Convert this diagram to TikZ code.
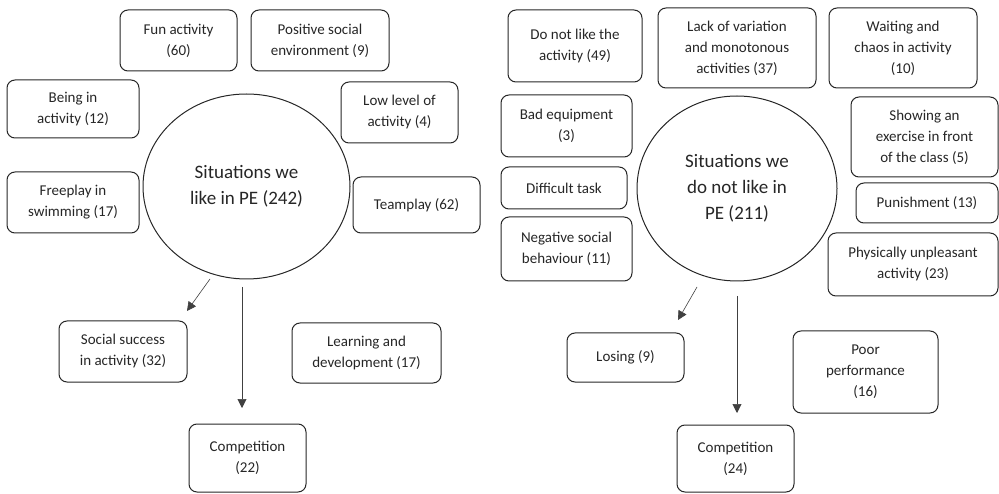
\documentclass[tikz,border=0pt]{standalone}
\usepackage{fontspec}
\setmainfont{Carlito}
\usetikzlibrary{arrows.meta,shapes.geometric}
\begin{document}
\begin{tikzpicture}[x=1pt,y=-1pt,
  box/.style={draw=black!85, line width=1pt, rounded corners=8pt, align=center,
    inner sep=0pt, text=black!85, font=\fontsize{15}{21}\selectfont},
  hub/.style={draw=black!85, line width=1pt, ellipse, inner sep=0pt, align=center,
    text=black!85, font=\fontsize{19}{26}\selectfont},
  link/.style={draw=black!75, line width=0.6pt, -{Triangle[length=9pt,width=9pt]}}]
\useasboundingbox (0,0) rectangle (999,494);
% ---------- left diagram ----------
\node[hub, minimum width=207pt, minimum height=185pt] (like) at (246.5,186.5) {Situations we\\like in PE (242)};
\node[box, minimum width=117pt, minimum height=61pt] (fun) at (178.5,40.5) {Fun activity\\(60)};
\node[box, minimum width=138pt, minimum height=61pt] (pos) at (320,40.5) {Positive social\\environment (9)};
\node[box, minimum width=132pt, minimum height=58pt] (being) at (73,109) {Being in\\activity (12)};
\node[box, minimum width=117pt, minimum height=61pt] (low) at (399.5,112.5) {Low level of\\activity (4)};
\node[box, minimum width=132pt, minimum height=61pt] (free) at (73,202.5) {Freeplay in\\swimming (17)};
\node[box, minimum width=127pt, minimum height=56pt] (team) at (416.5,205) {Teamplay (62)};
\node[box, minimum width=128pt, minimum height=61pt] (social) at (123,351.5) {Social success\\in activity (32)};
\node[box, minimum width=149pt, minimum height=60pt] (learn) at (366.5,353) {Learning and\\development (17)};
\node[box, minimum width=117pt, minimum height=68pt] (compA) at (247.5,458) {Competition\\(22)};
\coordinate (la1) at (210,279); \coordinate (la2) at (187,311);
\coordinate (lb1) at (242,287); \coordinate (lb2) at (242,408);
\draw[link] (la1) -- (la2);
\draw[link] (lb1) -- (lb2);
% ---------- right diagram ----------
\node[hub, minimum width=200pt, minimum height=185pt] (dislike) at (737,188.5) {Situations we\\do not like in\\PE (211)};
\node[box, minimum width=134pt, minimum height=72pt] (dnl) at (575,46) {Do not like the\\activity (49)};
\node[box, minimum width=158pt, minimum height=80pt] (lack) at (737,48) {Lack of variation\\and monotonous\\activities (37)};
\node[box, minimum width=148pt, minimum height=80pt] (wait) at (903,48) {Waiting and\\chaos in activity\\(10)};
\node[box, minimum width=131pt, minimum height=62pt] (bad) at (566.5,126) {Bad equipment\\(3)};
\node[box, minimum width=147pt, minimum height=80pt] (show) at (924.5,137) {Showing an\\exercise in front\\of the class (5)};
\node[box, minimum width=126pt, minimum height=42pt] (diff) at (564,188) {Difficult task};
\node[box, minimum width=142pt, minimum height=40pt] (pun) at (927,203) {Punishment (13)};
\node[box, minimum width=131pt, minimum height=64pt] (neg) at (566.5,249) {Negative social\\behaviour (11)};
\node[box, minimum width=170pt, minimum height=63pt] (phys) at (913,264.5) {Physically unpleasant\\activity (23)};
\node[box, minimum width=117pt, minimum height=49pt] (lose) at (625.5,357.5) {Losing (9)};
\node[box, minimum width=145pt, minimum height=82pt] (poor) at (865.5,372) {Poor\\performance\\(16)};
\node[box, minimum width=117pt, minimum height=67pt] (compB) at (735.5,458.5) {Competition\\(24)};
\coordinate (ra1) at (697,287); \coordinate (ra2) at (678,320);
\coordinate (rb1) at (737,296); \coordinate (rb2) at (737,413);
\draw[link] (ra1) -- (ra2);
\draw[link] (rb1) -- (rb2);
\end{tikzpicture}
\end{document}
